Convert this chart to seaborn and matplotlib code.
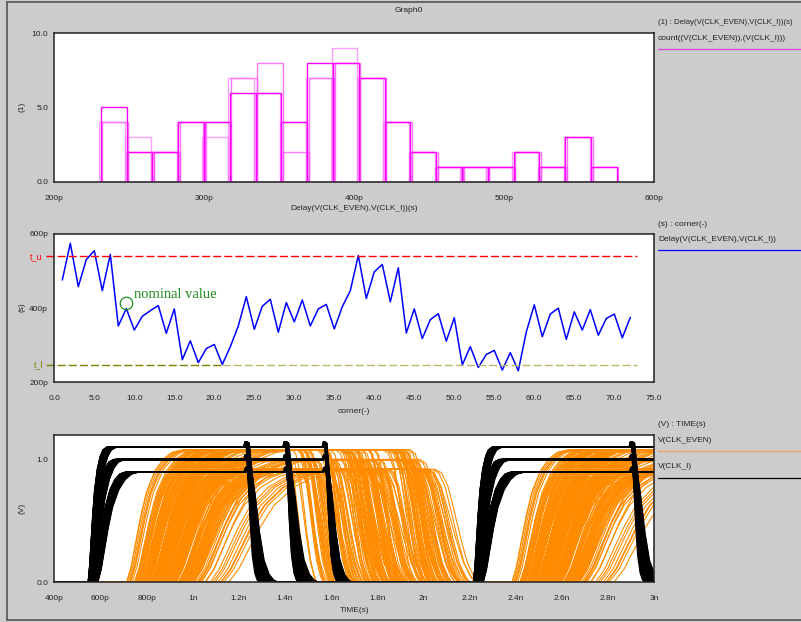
import numpy as np
import pandas as pd
import matplotlib
matplotlib.use('Agg')
import matplotlib.pyplot as plt
import matplotlib.transforms as mtransforms
from matplotlib.lines import Line2D
import seaborn as sns

# Delay per Monte-Carlo corner (ps)
corners = list(range(1, 73))
delays = [476, 575, 458, 531, 555, 447, 545, 352, 399, 341,
          378, 393, 407, 332, 398, 261, 312, 253, 291, 302,
          248, 296, 352, 431, 343, 405, 424, 335, 415, 363,
          422, 352, 398, 410, 344, 404, 447, 542, 426, 498,
          518, 417, 509, 333, 398, 318, 369, 385, 311, 374,
          247, 296, 240, 275, 286, 233, 280, 231, 336, 409,
          323, 384, 400, 316, 390, 341, 396, 327, 372, 384,
          320, 375]
t_upper = 540
t_lower = 248
nominal_corner = 9
nominal_delay = 415

# waveform description (ns / V), one set per supply level
vdd_levels = [1.1, 1.0, 0.9]          # CLK_I high level
even_levels = [1.08, 1.0, 0.92]       # CLK_EVEN high level
level_speed = [0.9, 1.0, 1.15]        # relative delay at each supply
rise_start = [0.535, 0.545, 0.56]
rise_dur = [0.08, 0.1, 0.14]
fall_edges = [1.215, 1.385, 1.555]    # CLK_I falling edge groups
period_shift = 1.67                   # second clock edge
rise_frac = [0, 0.08, 0.16, 0.25, 0.35, 0.5, 0.65, 0.8, 1.0]
rise_shape = [0, 0.12, 0.3, 0.5, 0.68, 0.84, 0.93, 0.98, 1.0]
clk_fall_frac = [0, 0.08, 0.16, 0.28, 0.42, 0.56, 0.72, 0.86, 1.0]
clk_fall_shape = [1.0, 1.04, 1.03, 0.8, 0.45, 0.2, 0.07, 0.02, 0.0]
even_fall_frac = [0, 0.15, 0.3, 0.45, 0.6, 0.75, 0.9, 1.0]
even_fall_shape = [1.0, 0.97, 0.85, 0.62, 0.38, 0.17, 0.05, 0.0]

hist_tick_vals = [200, 300, 400, 500, 600]
time_ticks = [0.4, 0.6, 0.8, 1.0, 1.2, 1.4, 1.6, 1.8, 2.0, 2.2, 2.4, 2.6, 2.8, 3.0]
time_labels = ['400p', '600p', '800p', '1n', '1.2n', '1.4n', '1.6n', '1.8n',
               '2n', '2.2n', '2.4n', '2.6n', '2.8n', '3n']


def edge(t0, dur, frac, shape, level):
    return [t0 + dur * f for f in frac], [level * v for v in shape]


def trace(edges):
    t, v = [0.3], [0.0]
    for a, b in edges:
        t += a
        v += b
    return t + [3.5], v + [v[-1]]


# build the transient traces from the corner delays
clk_rows, even_rows = [], []
for i, d in enumerate(delays):
    s = d / 400.0
    grp = i % 3
    for j, L in enumerate(vdd_levels):
        k = level_speed[j]
        Le = even_levels[j]
        uid = i * 3 + j

        rb = rise_start[j] + 0.02 * s
        db = rise_dur[j] * (0.8 + 0.35 * s)
        fb = fall_edges[grp] + 0.01 * s * k
        dfb = (0.04 + 0.06 * s) * k
        t, v = trace([edge(rb, db, rise_frac, rise_shape, L),
                      edge(fb, dfb, clk_fall_frac, clk_fall_shape, L),
                      edge(rb + period_shift, db, rise_frac, rise_shape, L),
                      edge(fb + period_shift, dfb, clk_fall_frac, clk_fall_shape, L)])
        clk_rows += [{'t': a, 'v': b, 'trace': uid} for a, b in zip(t, v)]

        dd = d / 1000.0 * k
        do = 0.1 + 0.28 * s * k
        dfo = (0.06 + 0.09 * s) * k
        ro = rb + 0.25 * db + dd - 0.25 * do
        fo = fb + 0.42 * dfb + dd - 0.52 * dfo
        t, v = trace([edge(ro, do, rise_frac, rise_shape, Le),
                      edge(fo, dfo, even_fall_frac, even_fall_shape, Le),
                      edge(ro + period_shift, do, rise_frac, rise_shape, Le)])
        even_rows += [{'t': a, 'v': b, 'trace': uid} for a, b in zip(t, v)]

df_clk = pd.DataFrame(clk_rows)
df_even = pd.DataFrame(even_rows)

sns.set_style('white')
plt.rcParams['font.family'] = ['Liberation Sans', 'DejaVu Sans']
plt.rcParams['font.size'] = 6

W, H = 801, 622
fig = plt.figure(figsize=(W / 100, H / 100), dpi=100, facecolor='#cccccc')


def rect(x0, y0, x1, y1):
    return [x0 / W, 1 - y1 / H, (x1 - x0) / W, (y1 - y0) / H]


def style_axes(ax):
    ax.set_facecolor('white')
    for sp in ax.spines.values():
        sp.set_color('#222222')
        sp.set_linewidth(1.1)
    ax.tick_params(axis='x', length=3.5, width=0.8, pad=6, labelsize=6, colors='#222222')
    ax.tick_params(axis='y', length=2.5, width=0.8, pad=2, labelsize=6, colors='#222222')


# ---- top: histogram of delays (20 bins, drawn a few times with shifted edges)
ax1 = fig.add_axes(rect(54.3, 33.3, 654.3, 181.7))
lo, hi = min(delays), max(delays)
for off, col, a in [(1.0, '#ff55ff', 0.8), (-1.0, '#ff77ff', 0.7), (0.0, '#ff00ff', 1.0)]:
    sns.histplot(x=delays, bins=20, binrange=(lo + off, hi + off),
                 fill=False, element='bars', color=col, alpha=a, linewidth=1.0, ax=ax1)
ax1.set_xlim(200, 600)
ax1.set_ylim(0, 10)
ax1.set_xticks(hist_tick_vals)
ax1.set_xticklabels([f'{v}p' for v in hist_tick_vals])
ax1.set_yticks([0, 5, 10])
ax1.set_yticklabels(['0.0', '5.0', '10.0'])
ax1.set_ylabel('')
style_axes(ax1)
ax1.set_xlabel('Delay(V(CLK_EVEN),V(CLK_I))(s)', fontsize=6)
ax1.xaxis.set_label_coords(0.5, -0.16)

# ---- middle: delay vs corner
ax2 = fig.add_axes(rect(54.3, 234, 654.3, 382.3))
sns.lineplot(x=corners, y=delays, color='#0000ff', linewidth=1.1, ax=ax2)
ax2.plot([-1, 72.8], [t_upper, t_upper], color='#ff0000', lw=1.0,
         dashes=(5.8, 2.2), clip_on=False)
ax2.plot([-1, 21], [t_lower, t_lower], color='#808000', lw=1.0,
         dashes=(5.8, 2.2), clip_on=False)
ax2.plot([21, 72.8], [t_lower, t_lower], color='#bdb76b', lw=1.0,
         dashes=(5.8, 2.2), clip_on=False)
ax2.plot([nominal_corner], [nominal_delay], marker='o', ms=9, mfc='none',
         mec='#1e8c1e', mew=0.9, ls='none')
ax2.text(nominal_corner + 1.0, nominal_delay + 22, 'nominal value', color='#1e8c1e',
         fontsize=10.5, family=['Liberation Serif', 'DejaVu Serif'], va='center')
ax2.set_xlim(0, 75)
ax2.set_ylim(200, 600)
ax2.set_xticks(np.arange(0, 76, 5))
ax2.set_xticklabels([f'{v:.1f}' for v in np.arange(0, 76, 5)])
ax2.set_yticks([200, 400, 600])
ax2.set_yticklabels(['200p', '400p', '600p'])
style_axes(ax2)
trans = mtransforms.blended_transform_factory(ax2.transAxes, ax2.transData)
ax2.text(-0.030, t_upper, 't_u', color='#ff0000', fontsize=6.5, ha='center', va='center', transform=trans)
ax2.text(-0.026, t_lower, 't_l', color='#808000', fontsize=6.5, ha='center', va='center', transform=trans)
ax2.set_xlabel('corner(-)', fontsize=6)
ax2.xaxis.set_label_coords(0.5, -0.17)

# ---- bottom: transient waveforms
ax3 = fig.add_axes(rect(54.3, 435, 654.3, 582.3))
sns.lineplot(data=df_even, x='t', y='v', units='trace', estimator=None, sort=False,
             color='#ff8c00', linewidth=0.8, ax=ax3)
sns.lineplot(data=df_clk, x='t', y='v', units='trace', estimator=None, sort=False,
             color='black', linewidth=0.9, ax=ax3)
ax3.set_xlim(0.4, 3.0)
ax3.set_ylim(0, 1.2)
ax3.set_xticks(time_ticks)
ax3.set_xticklabels(time_labels)
ax3.set_yticks([0, 1.0])
ax3.set_yticklabels(['0.0', '1.0'])
ax3.set_ylabel('')
style_axes(ax3)
ax3.set_xlabel('TIME(s)', fontsize=6)
ax3.xaxis.set_label_coords(0.5, -0.17)

# y labels
for y, lab in [(107, '(1)'), (307, '(s)'), (508, '(V)')]:
    fig.text(21.5 / W, 1 - y / H, lab, rotation=90, ha='center', va='center',
             fontsize=6, color='#222222')

# title and legend panel on the right
fig.text(409 / W, 1 - 11 / H, 'Graph0', ha='center', va='center', fontsize=6, color='#222222')
legend_items = [
    (23, '(1) : Delay(V(CLK_EVEN),V(CLK_I))(s)', None, None, 5.6),
    (39, 'count((V(CLK_EVEN)),(V(CLK_I)))', 49, '#e040e0', 6),
    (224, '(s) : corner(-)', None, None, 6),
    (239, 'Delay(V(CLK_EVEN),V(CLK_I))', 250, '#0000ff', 6),
    (424, '(V) : TIME(s)', None, None, 6),
    (440, 'V(CLK_EVEN)', 451, '#f0a060', 6),
    (467, 'V(CLK_I)', 478, 'black', 6),
]
for ty, txt, ly, col, fs in legend_items:
    fig.text(658 / W, 1 - ty / H, txt, ha='left', va='center', fontsize=fs, color='#222222')
    if ly is not None:
        fig.add_artist(Line2D([658 / W, 1.0], [1 - ly / H, 1 - ly / H],
                              transform=fig.transFigure, color=col, lw=0.9))

# window frame
for xs, ys in [([7 / W, 7 / W], [1 - 1.5 / H, 1 - 620 / H]),
               ([7 / W, 1.0], [1 - 1.5 / H, 1 - 1.5 / H]),
               ([7 / W, 1.0], [1 - 620 / H, 1 - 620 / H])]:
    fig.add_artist(Line2D(xs, ys, transform=fig.transFigure, color='#555555', lw=1.2))

fig.savefig('out.png', dpi=100, facecolor=fig.get_facecolor())
